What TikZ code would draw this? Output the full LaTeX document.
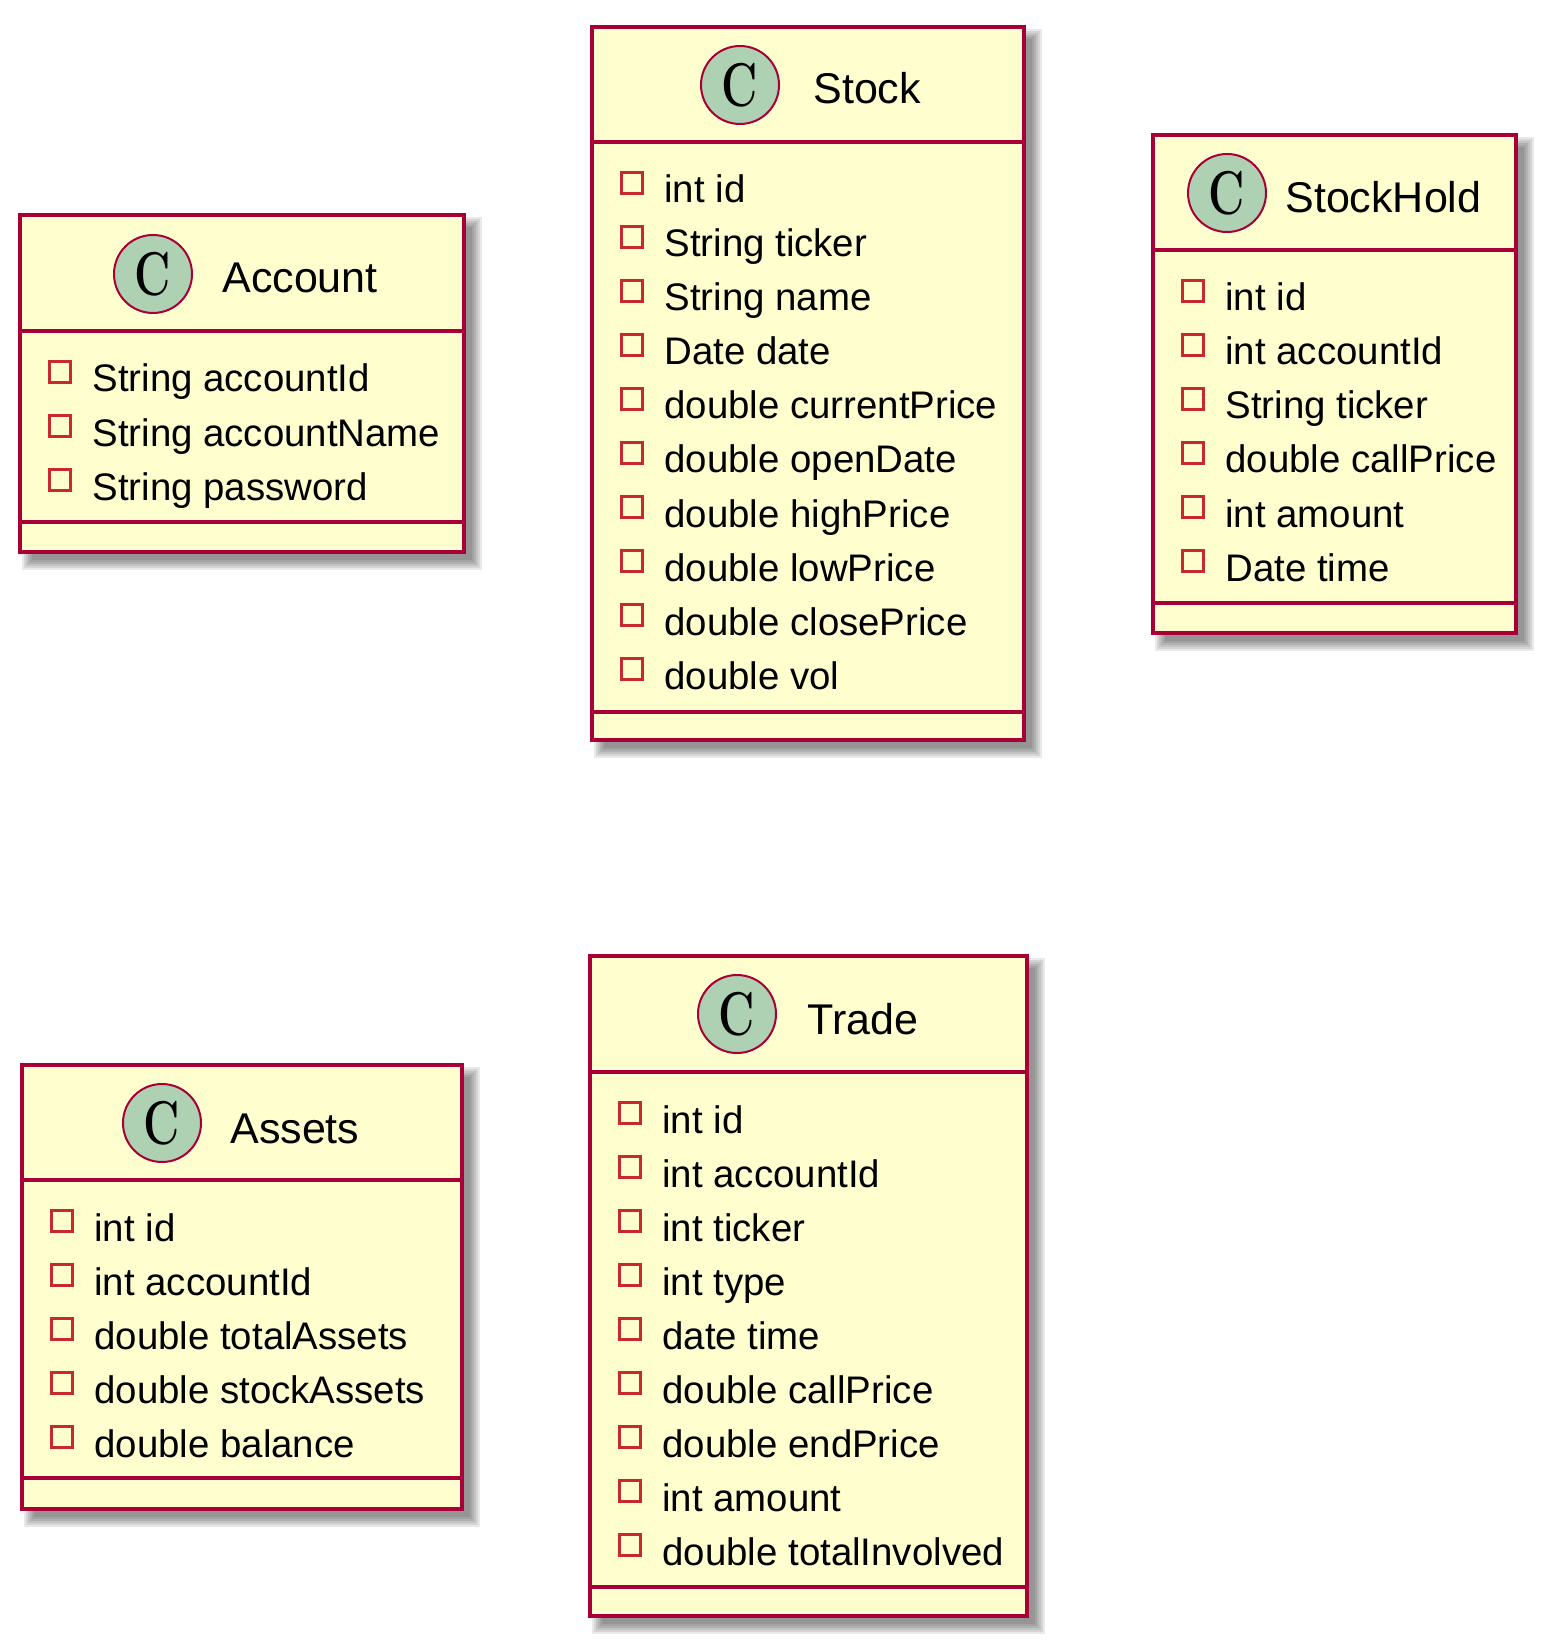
\documentclass[tikz,border=0pt]{standalone}
\usepackage{fontspec}
\newfontfamily\umlfont{Liberation Sans}
\usepackage{tikz}
\definecolor{umlborder}{HTML}{A80036}
\definecolor{umlfill}{HTML}{FEFECE}
\definecolor{umlbadge}{HTML}{ADD1B2}
\definecolor{umlfield}{HTML}{C82930}

\begin{document}
\begin{tikzpicture}[x=0.5pt,y=-0.5pt,
	classbox/.style={draw=umlborder,line width=2pt,fill=umlfill},
	divider/.style={draw=umlborder,line width=2pt},
	shadowlayer/.style={fill=black,opacity=.085},
	badge/.style={circle,draw=umlborder,line width=1pt,fill=umlbadge,minimum size=39pt,inner sep=0pt,
		font=\bfseries\fontsize{31}{31}\selectfont},
	classname/.style={anchor=base west,inner sep=0pt,font=\umlfont\fontsize{21.5}{24}\selectfont},
	field/.style={anchor=base west,inner sep=0pt,font=\umlfont\fontsize{19.2}{22}\selectfont},
	fieldbox/.style={draw=umlfield,line width=1.3pt}]
	\useasboundingbox (0,0) rectangle (1551,1652);

	% Account
	\begin{scope}[shift={(20,215)}]
		\foreach \e in {-2,0,...,8} \fill[shadowlayer] (10-\e,10-\e) rectangle (454+\e,347+\e);
		\draw[classbox] (0,0) rectangle (444,337);
		\draw[divider] (0,116) -- (444,116) (0,307) -- (444,307);
		\node[badge] (account-badge) at (133,59) {\scalebox{0.72}[1]{C}};
		\node[classname] (account) at (202,78) {Account};
		\foreach \f [count=\i from 0] in {String accountId,String accountName,String password} {
			\draw[fieldbox] (29.5,146.5+54*\i) rectangle ++(21,21);
			\node[field] (account-f\i) at (72,177+54*\i) {\f};
		}
	\end{scope}

	% Stock
	\begin{scope}[shift={(592,27)}]
		\foreach \e in {-2,0,...,8} \fill[shadowlayer] (10-\e,10-\e) rectangle (442+\e,723+\e);
		\draw[classbox] (0,0) rectangle (432,713);
		\draw[divider] (0,115) -- (432,115) (0,685) -- (432,685);
		\node[badge] (stock-badge) at (148,58) {\scalebox{0.72}[1]{C}};
		\node[classname] (stock) at (221,77) {Stock};
		\foreach \f [count=\i from 0] in {int id,String ticker,String name,Date date,double currentPrice,
			double openDate,double highPrice,double lowPrice,double closePrice,double vol} {
			\draw[fieldbox] (29.5,145.5+54*\i) rectangle ++(21,21);
			\node[field] (stock-f\i) at (72,176+54*\i) {\f};
		}
	\end{scope}

	% StockHold
	\begin{scope}[shift={(1153,135)}]
		\foreach \e in {-2,0,...,8} \fill[shadowlayer] (10-\e,10-\e) rectangle (373+\e,508+\e);
		\draw[classbox] (0,0) rectangle (363,498);
		\draw[divider] (0,115) -- (363,115) (0,468) -- (363,468);
		\node[badge] (stockhold-badge) at (74,58) {\scalebox{0.72}[1]{C}};
		\node[classname] (stockhold) at (132,78) {StockHold};
		\foreach \f [count=\i from 0] in {int id,int accountId,String ticker,double callPrice,int amount,Date time} {
			\draw[fieldbox] (29.5,145.5+54*\i) rectangle ++(21,21);
			\node[field] (stockhold-f\i) at (72,176+54*\i) {\f};
		}
	\end{scope}

	% Assets
	\begin{scope}[shift={(22,1065)}]
		\foreach \e in {-2,0,...,8} \fill[shadowlayer] (10-\e,10-\e) rectangle (450+\e,454+\e);
		\draw[classbox] (0,0) rectangle (440,444);
		\draw[divider] (0,115) -- (440,115) (0,413) -- (440,413);
		\node[badge] (assets-badge) at (140,58) {\scalebox{0.72}[1]{C}};
		\node[classname] (assets) at (208,78) {Assets};
		\foreach \f [count=\i from 0] in {int id,int accountId,double totalAssets,double stockAssets,double balance} {
			\draw[fieldbox] (29.5,145.5+54*\i) rectangle ++(21,21);
			\node[field] (assets-f\i) at (72,176+54*\i) {\f};
		}
	\end{scope}

	% Trade
	\begin{scope}[shift={(590,956)}]
		\foreach \e in {-2,0,...,8} \fill[shadowlayer] (10-\e,10-\e) rectangle (447+\e,670+\e);
		\draw[classbox] (0,0) rectangle (437,660);
		\draw[divider] (0,116) -- (437,116) (0,631) -- (437,631);
		\node[badge] (trade-badge) at (147,58) {\scalebox{0.72}[1]{C}};
		\node[classname] (trade) at (217,78) {Trade};
		\foreach \f [count=\i from 0] in {int id,int accountId,int ticker,int type,date time,double callPrice,
			double endPrice,int amount,double totalInvolved} {
			\draw[fieldbox] (29.5,146.5+54*\i) rectangle ++(21,21);
			\node[field] (trade-f\i) at (72,177+54*\i) {\f};
		}
	\end{scope}
\end{tikzpicture}
\end{document}
